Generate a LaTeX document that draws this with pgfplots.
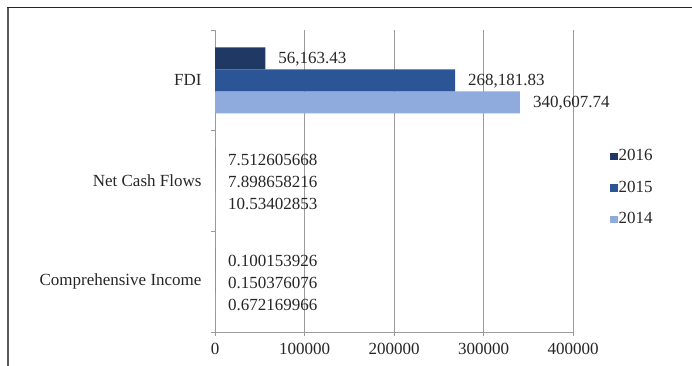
\documentclass[border=0pt]{standalone}
\usepackage{pgfplots}
\pgfplotsset{compat=1.18}
\usepackage{pgfplotstable}
\usepackage{fontspec}
\setmainfont{Liberation Serif}
\definecolor{c16}{RGB}{31,56,100}
\definecolor{c15}{RGB}{44,85,151}
\definecolor{c14}{RGB}{143,170,220}
\definecolor{gridc}{RGB}{155,155,155}

\pgfplotstableread{
x y label
0.672169966 0 0.672169966
10.53402853 1 10.53402853
340607.74 2 340,607.74
}\tA
\pgfplotstableread{
x y label
0.150376076 0 0.150376076
7.898658216 1 7.898658216
268181.83 2 268,181.83
}\tB
\pgfplotstableread{
x y label
0.100153926 0 0.100153926
7.512605668 1 7.512605668
56163.43 2 56,163.43
}\tC

\begin{document}
\begin{tikzpicture}[x=1pt,y=1pt]
\path[use as bounding box] (0,-366) rectangle (692,0);
\draw[line width=2pt, black!65] (8,-366) -- (8,-7);
\draw[line width=1.3pt, black!85] (7,-7.3) -- (692,-7.3);
\begin{axis}[
  at={(215pt,-332pt)}, anchor=south west,
  scale only axis, width=358pt, height=302pt,
  xbar, bar width=22pt,
  xmin=0, xmax=400000, ymin=-0.5, ymax=2.5,
  xtick={0,100000,200000,300000,400000},
  xticklabels={0,100000,200000,300000,400000},
  scaled x ticks=false,
  ytick={-0.5,0.5,1.5,2.5}, yticklabels={},
  extra y ticks={0,1,2},
  extra y tick labels={Comprehensive Income, Net Cash Flows, FDI},
  extra y tick style={tick style={draw=none}, yticklabel style={xshift=-6pt}},
  xmajorgrids, ymajorgrids=false,
  grid style={gridc, line width=0.9pt},
  axis x line*=bottom, axis y line*=left,
  axis line style={gridc, line width=0.9pt, -},
  tick align=outside, major tick length=4pt,
  tick style={gridc, line width=0.9pt},
  tick label style={font=\fontsize{17}{20}\selectfont, text=black!85},
  xticklabel style={yshift=-3.5pt},
  nodes near coords, point meta=explicit symbolic,
  every node near coord/.append style={anchor=west, inner sep=0pt, xshift=13pt, yshift=-1pt, text=black!85, font=\fontsize{17}{20}\selectfont},
  legend style={at={(1.103,0.608)}, anchor=north west, draw=none, fill=none, inner sep=0pt,
    font=\fontsize{17}{20}\selectfont, row sep=16.5pt, nodes={inner sep=1pt, text=black!85}},
  reverse legend, legend cell align=left,
]
\addplot[fill=c14, draw=none, bar shift=-22pt,
  legend image code/.code={\fill[c14] (0pt,-4.5pt) rectangle (7.5pt,3pt);}]
  table[x=x, y=y, meta=label] {\tA};
\addlegendentry{2014}
\addplot[fill=c15, draw=none, bar shift=0pt,
  legend image code/.code={\fill[c15] (0pt,-4.5pt) rectangle (7.5pt,3pt);}]
  table[x=x, y=y, meta=label] {\tB};
\addlegendentry{2015}
\addplot[fill=c16, draw=none, bar shift=22pt,
  legend image code/.code={\fill[c16] (0pt,-4.5pt) rectangle (7.5pt,3pt);}]
  table[x=x, y=y, meta=label] {\tC};
\addlegendentry{2016}
\end{axis}
\end{tikzpicture}
\end{document}
